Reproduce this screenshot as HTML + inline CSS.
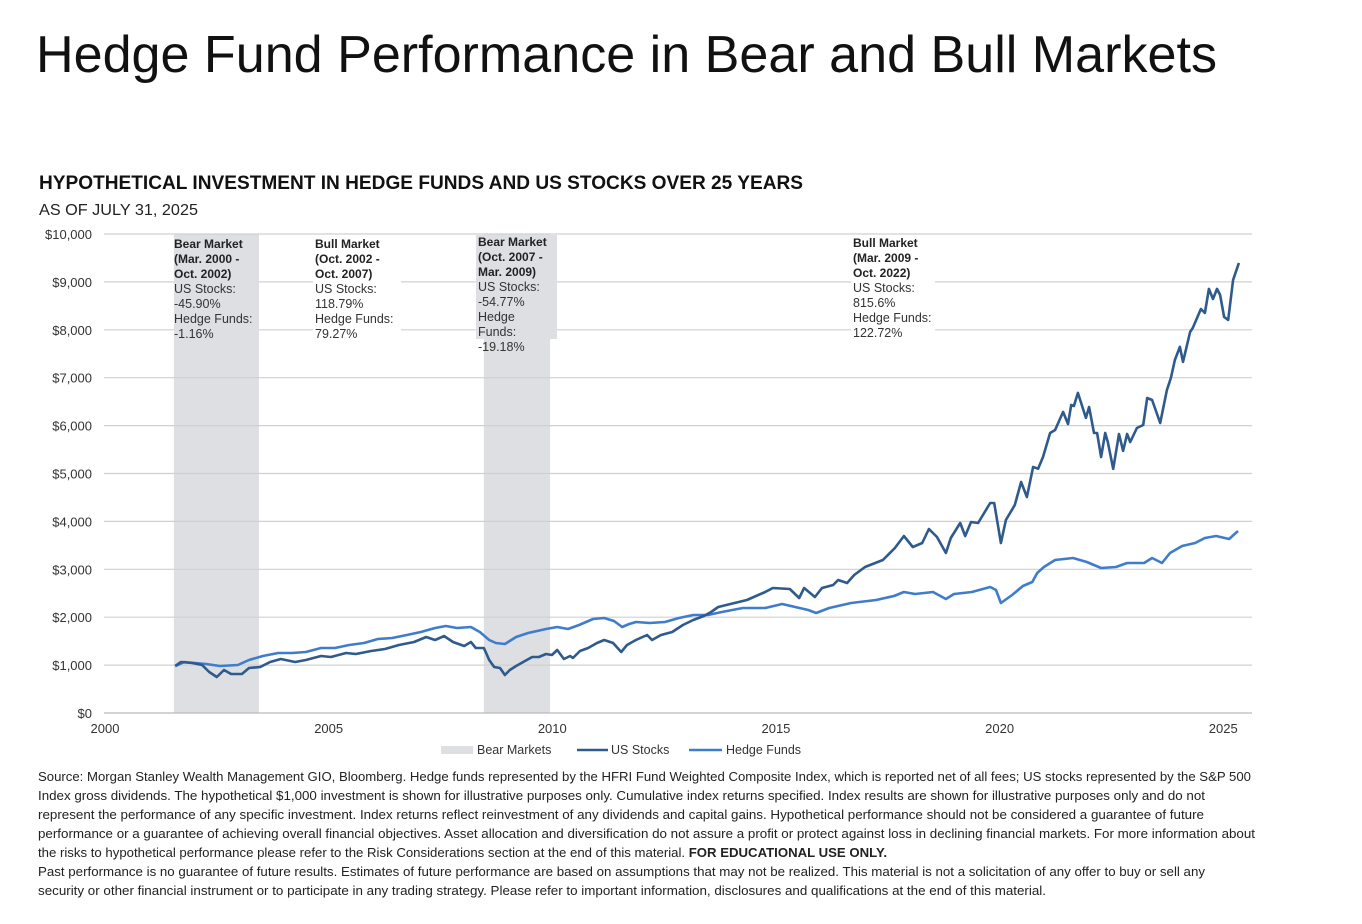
<!DOCTYPE html>
<html><head><meta charset="utf-8"><style>
html,body{margin:0;padding:0;background:#fff;}
svg{display:block;font-family:"Liberation Sans",Arial,sans-serif;}
</style></head><body>
<svg id="chart" width="1362" height="924" viewBox="0 0 1362 924" xmlns="http://www.w3.org/2000/svg">
<text x="36" y="72" font-size="52" fill="#111" textLength="1181" lengthAdjust="spacingAndGlyphs">Hedge Fund Performance in Bear and Bull Markets</text>
<text x="39" y="189" font-size="19" font-weight="bold" fill="#111" textLength="764" lengthAdjust="spacingAndGlyphs">HYPOTHETICAL INVESTMENT IN HEDGE FUNDS AND US STOCKS OVER 25 YEARS</text>
<text x="39" y="215" font-size="16" fill="#222" textLength="159" lengthAdjust="spacingAndGlyphs">AS OF JULY 31, 2025</text>
<g id="bands"></g>
<g id="grid"></g>
<g id="annos"></g>
<g id="lines"></g>
<g id="axes"></g>
<g>
<rect x="441" y="746" width="32" height="8" fill="#dedfe3"/>
<text x="477" y="754" font-size="12.5" fill="#333">Bear Markets</text>
<line x1="577" y1="750" x2="608" y2="750" stroke="#2f5a8c" stroke-width="2.5"/>
<text x="611" y="754" font-size="12.5" fill="#333">US Stocks</text>
<line x1="689" y1="750" x2="722" y2="750" stroke="#3f7ccc" stroke-width="2.5"/>
<text x="726" y="754" font-size="12.5" fill="#333">Hedge Funds</text>
</g>
<g font-size="12.5" fill="#222">
<text x="38" y="781" textLength="1213" lengthAdjust="spacingAndGlyphs">Source: Morgan Stanley Wealth Management GIO, Bloomberg. Hedge funds represented by the HFRI Fund Weighted Composite Index, which is reported net of all fees; US stocks represented by the S&amp;P 500</text>
<text x="38" y="800" textLength="1167" lengthAdjust="spacingAndGlyphs">Index gross dividends. The hypothetical $1,000 investment is shown for illustrative purposes only. Cumulative index returns specified. Index results are shown for illustrative purposes only and do not</text>
<text x="38" y="819" textLength="1166" lengthAdjust="spacingAndGlyphs">represent the performance of any specific investment. Index returns reflect reinvestment of any dividends and capital gains. Hypothetical performance should not be considered a guarantee of future</text>
<text x="38" y="838" textLength="1217" lengthAdjust="spacingAndGlyphs">performance or a guarantee of achieving overall financial objectives. Asset allocation and diversification do not assure a profit or protect against loss in declining financial markets. For more information about</text>
<text x="38" y="857" textLength="849" lengthAdjust="spacingAndGlyphs">the risks to hypothetical performance please refer to the Risk Considerations section at the end of this material. <tspan font-weight="bold">FOR EDUCATIONAL USE ONLY.</tspan></text>
<text x="38" y="876" textLength="1167" lengthAdjust="spacingAndGlyphs">Past performance is no guarantee of future results. Estimates of future performance are based on assumptions that may not be realized. This material is not a solicitation of any offer to buy or sell any</text>
<text x="38" y="895" textLength="1008" lengthAdjust="spacingAndGlyphs">security or other financial instrument or to participate in any trading strategy. Please refer to important information, disclosures and qualifications at the end of this material.</text>
</g>
</svg>
<script>
// ---- data ----
const usYears=[1.57,1.70,1.95,2.17,2.33,2.50,2.66,2.82,3.06,3.22,3.47,3.69,3.93,4.25,4.49,4.83,5.05,5.39,5.61,5.95,6.26,6.57,6.91,7.18,7.38,7.58,7.78,8.03,8.18,8.29,8.47,8.59,8.70,8.83,8.94,9.05,9.19,9.39,9.55,9.70,9.86,9.99,10.11,10.26,10.40,10.46,10.62,10.80,11.00,11.16,11.36,11.54,11.67,11.87,12.12,12.23,12.43,12.68,12.92,13.15,13.39,13.55,13.71,14.35,14.76,14.93,15.31,15.52,15.63,15.87,16.03,16.28,16.39,16.59,16.75,16.99,17.39,17.66,17.86,18.06,18.27,18.42,18.60,18.80,18.91,19.12,19.23,19.36,19.52,19.79,19.88,20.03,20.14,20.34,20.48,20.61,20.75,20.86,20.97,21.13,21.24,21.42,21.53,21.60,21.66,21.75,21.93,22.00,22.11,22.18,22.27,22.36,22.42,22.54,22.67,22.76,22.85,22.92,23.07,23.21,23.30,23.41,23.59,23.74,23.83,23.92,24.03,24.10,24.26,24.32,24.50,24.59,24.68,24.77,24.86,24.93,25.02,25.11,25.22,25.35];
const usValues=[981,1065,1044,1002,856,752,898,814,814,940,960,1065,1128,1065,1107,1190,1169,1253,1232,1295,1336,1420,1482,1587,1524,1608,1482,1399,1482,1357,1357,1107,960,940,793,898,981,1086,1169,1169,1232,1211,1315,1128,1190,1148,1295,1357,1462,1524,1462,1274,1420,1524,1629,1524,1629,1691,1837,1942,2025,2109,2213,2359,2526,2610,2589,2401,2610,2422,2610,2672,2777,2714,2881,3048,3195,3445,3696,3466,3550,3842,3675,3341,3654,3967,3696,3988,3967,4385,4385,3550,4030,4343,4823,4510,5136,5100,5345,5846,5909,6285,6034,6431,6410,6682,6160,6389,5846,5846,5345,5846,5658,5095,5825,5471,5825,5658,5950,6013,6577,6535,6055,6744,6995,7371,7642,7329,7955,8039,8435,8352,8853,8644,8853,8728,8269,8206,9041,9396];
const hfYears=[1.57,1.77,2.01,2.26,2.57,2.97,3.22,3.53,3.87,4.18,4.49,4.83,5.14,5.46,5.79,6.10,6.42,6.75,7.06,7.38,7.62,7.87,8.18,8.38,8.59,8.74,8.94,9.19,9.46,9.86,10.11,10.35,10.60,10.91,11.16,11.38,11.56,11.72,11.87,12.18,12.52,12.83,13.15,13.48,13.79,14.26,14.76,15.14,15.43,15.72,15.90,16.19,16.68,17.24,17.64,17.86,18.11,18.51,18.80,18.98,19.38,19.79,19.92,20.03,20.28,20.52,20.73,20.84,20.99,21.24,21.64,21.95,22.27,22.60,22.85,23.23,23.41,23.63,23.81,24.08,24.37,24.59,24.84,25.13,25.33];
const hfValues=[981,1065,1044,1023,981,1002,1107,1190,1253,1253,1274,1357,1357,1420,1462,1545,1566,1629,1691,1775,1816,1775,1796,1691,1524,1462,1441,1587,1670,1754,1796,1754,1837,1963,1984,1921,1796,1858,1900,1879,1900,1984,2046,2046,2109,2192,2192,2276,2213,2151,2088,2192,2297,2359,2443,2526,2485,2526,2380,2485,2526,2631,2568,2297,2464,2652,2735,2923,3048,3195,3236,3153,3027,3048,3132,3132,3236,3132,3341,3487,3550,3654,3696,3633,3800];
const bandStart=[1.54,8.47];
const bandEnd=[3.44,9.95];
const yTicks=[0,1000,2000,3000,4000,5000,6000,7000,8000,9000,10000];
const yTickLabels=["$0","$1,000","$2,000","$3,000","$4,000","$5,000","$6,000","$7,000","$8,000","$9,000","$10,000"];
const xTicks=[0,5,10,15,20,25];
const xTickLabels=["2000","2005","2010","2015","2020","2025"];

const NS="http://www.w3.org/2000/svg";
const X=t=>105+t*44.73;
const Y=v=>713-v*0.0479;
function mk(tag,attrs,parent,text){const e=document.createElementNS(NS,tag);for(const k in attrs)e.setAttribute(k,attrs[k]);if(text!==undefined)e.textContent=text;parent.appendChild(e);return e;}

const gB=document.getElementById('bands');
bandStart.forEach((s,i)=>{
  const r=mk('rect',{x:X(s),y:Y(10000),width:X(bandEnd[i])-X(s),height:Y(0)-Y(10000),fill:'#dedfe3'},gB);
  
  
});
const gG=document.getElementById('grid');
const gA=document.getElementById('axes');
yTicks.forEach((v,i)=>{
  const l=mk('line',{x1:104,x2:1252,y1:Y(v),y2:Y(v),stroke:v===0?'#bbb':'#d0d0d0','stroke-width':1.2},gG);
  
  
  const t=mk('text',{x:92,y:Y(v)+5,'text-anchor':'end','font-size':13,fill:'#333'},gA,yTickLabels[i]);
  
  
});
xTicks.forEach((v,i)=>{
  const t=mk('text',{x:X(v),y:733,'text-anchor':'middle','font-size':13,fill:'#333'},gA,xTickLabels[i]);
  
  
});

// annotations
const annos=[
 {x:174,bx:174,bw:85,by:235,bh:100,fill:'#dedfe3',bold:["Bear Market","(Mar. 2000 -","Oct. 2002)"],reg:["US Stocks:","-45.90%","Hedge Funds:","-1.16%"],y0:244},
 {x:315,bx:313,bw:88,by:236,bh:100,fill:'#ffffff',bold:["Bull Market","(Oct. 2002 -","Oct. 2007)"],reg:["US Stocks:","118.79%","Hedge Funds:","79.27%"],y0:244},
 {x:478,bx:476,bw:81,by:235,bh:104,fill:'#dedfe3',bold:["Bear Market","(Oct. 2007 -","Mar. 2009)"],reg:["US Stocks:","-54.77%","Hedge","Funds:","-19.18%"],y0:242},
 {x:853,bx:851,bw:84,by:236,bh:104,fill:'#ffffff',bold:["Bull Market","(Mar. 2009 -","Oct. 2022)"],reg:["US Stocks:","815.6%","Hedge Funds:","122.72%"],y0:243}
];
const gN=document.getElementById('annos');
annos.forEach(a=>{
  const g=mk('g',{},gN);
  
  
  mk('rect',{x:a.bx,y:a.by,width:a.bw,height:a.bh,fill:a.fill},g);
  let y=a.y0;
  a.bold.forEach(s=>{mk('text',{x:a.x,y:y+4,'font-size':12,'font-weight':'bold',fill:'#222'},g,s);y+=15;});
  a.reg.forEach(s=>{mk('text',{x:a.x,y:y+4,'font-size':12.5,fill:'#333'},g,s);y+=15;});
});

const gL=document.getElementById('lines');
function line(xs,vs,color,name){
  const d=xs.map((t,i)=>(i?'L':'M')+X(t).toFixed(1)+','+Y(vs[i]).toFixed(1)).join(' ');
  const p=mk('path',{d:d,fill:'none',stroke:color,'stroke-width':2.6,'stroke-linejoin':'round'},gL);
  
  
}
line(hfYears,hfValues,'#3f7ccc','hedge-funds-line');
line(usYears,usValues,'#2f5a8c','us-stocks-line');
</script>
</body></html>
